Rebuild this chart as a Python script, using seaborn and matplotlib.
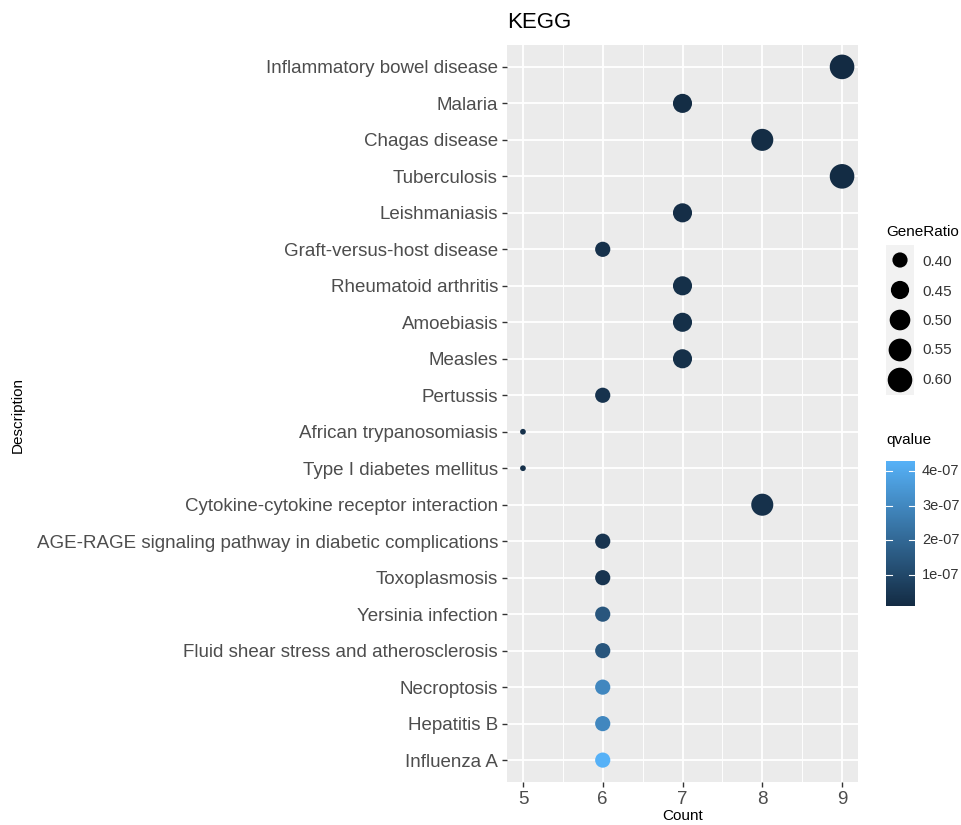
import numpy as np
import pandas as pd
import matplotlib
matplotlib.use('Agg')
import matplotlib.pyplot as plt
from matplotlib.colors import LinearSegmentedColormap, Normalize
from matplotlib.cm import ScalarMappable
import seaborn as sns

descriptions = [
    'Inflammatory bowel disease', 'Malaria', 'Chagas disease', 'Tuberculosis',
    'Leishmaniasis', 'Graft-versus-host disease', 'Rheumatoid arthritis',
    'Amoebiasis', 'Measles', 'Pertussis', 'African trypanosomiasis',
    'Type I diabetes mellitus', 'Cytokine-cytokine receptor interaction',
    'AGE-RAGE signaling pathway in diabetic complications', 'Toxoplasmosis',
    'Yersinia infection', 'Fluid shear stress and atherosclerosis',
    'Necroptosis', 'Hepatitis B', 'Influenza A',
]
counts = [9, 7, 8, 9, 7, 6, 7, 7, 7, 6, 5, 5, 8, 6, 6, 6, 6, 6, 6, 6]
gene_ratio = [0.600, 0.467, 0.533, 0.600, 0.467, 0.400, 0.467, 0.467, 0.467, 0.400,
              0.333, 0.333, 0.533, 0.400, 0.400, 0.400, 0.400, 0.400, 0.400, 0.400]
qvalue = [1.0e-8, 1.5e-8, 1.5e-8, 1.2e-8, 2.0e-8, 3.0e-8, 2.5e-8, 2.5e-8, 2.5e-8, 3.5e-8,
          3.0e-8, 3.0e-8, 3.0e-8, 4.0e-8, 4.0e-8, 1.45e-7, 1.45e-7, 3.0e-7, 3.0e-7, 4.3e-7]

size_breaks = [0.40, 0.45, 0.50, 0.55, 0.60]
q_breaks = [1e-7, 2e-7, 3e-7, 4e-7]
q_labels = ['1e-07', '2e-07', '3e-07', '4e-07']

df = pd.DataFrame({'Description': descriptions, 'Count': counts,
                   'GeneRatio': gene_ratio, 'qvalue': qvalue})

plt.rcParams['font.family'] = ['Liberation Sans', 'DejaVu Sans']

cmap = LinearSegmentedColormap.from_list('gg', ['#132B43', '#56B1F7'])
qnorm = Normalize(min(qvalue), max(qvalue))

gmin, gmax = min(gene_ratio), max(gene_ratio)


def gg_size(v):
    # ggplot-like area scale: diameter grows with sqrt of the rescaled value
    mm = 1.4 + 4.6 * np.sqrt((v - gmin) / (gmax - gmin))
    return (mm * 4.1 / 1.389) ** 2


size_map = {v: gg_size(v) for v in set(gene_ratio)}

fig = plt.figure(figsize=(9.62, 8.25), dpi=100)
ax = fig.add_axes([507 / 962, 43 / 825, 351 / 962, 737 / 825])
ax.set_facecolor('#EBEBEB')

sns.scatterplot(data=df, x='Count', y='Description', hue='qvalue', size='GeneRatio',
                palette=cmap, hue_norm=qnorm, sizes=size_map, linewidth=0,
                legend=False, ax=ax, zorder=3)

n = len(descriptions)
ax.set_ylim(n - 1 + 0.6, -0.6)
ax.set_xlim(4.8, 9.2)
ax.set_xticks([5, 6, 7, 8, 9])
ax.set_xticks([5.5, 6.5, 7.5, 8.5], minor=True)
ax.grid(which='major', color='white', linewidth=1.3, zorder=0)
ax.grid(which='minor', axis='x', color='white', linewidth=0.65, zorder=0)
ax.set_axisbelow(True)
for s in ax.spines.values():
    s.set_visible(False)
ax.tick_params(axis='both', which='major', length=3.5, width=1, color='#333333',
               labelcolor='#4D4D4D', labelsize=13.5, pad=3)
ax.tick_params(which='minor', length=0)
ax.set_xlabel('Count', fontsize=11, labelpad=1)
ax.set_ylabel('')
fig.text(18 / 962, 1 - 415 / 825, 'Description', rotation=90, fontsize=11,
         ha='center', va='center')
fig.text(507 / 962, 1 - 22 / 825, 'KEGG', fontsize=16, ha='left', va='center')

# GeneRatio legend
fig.text(886 / 962, 1 - 232 / 825, 'GeneRatio', fontsize=11, ha='left', va='center')
lax = fig.add_axes([886 / 962, 1 - 395 / 825, 28 / 962, 150 / 825])
lax.set_facecolor('#F2F2F2')
lax.set_xlim(0, 1)
lax.set_ylim(len(size_breaks) - 0.5, -0.5)
sns.scatterplot(x=[0.5] * len(size_breaks), y=list(range(len(size_breaks))),
                s=[gg_size(v) for v in size_breaks], color='black', linewidth=0,
                legend=False, ax=lax)
lax.set_xticks([])
lax.set_yticks([])
for s in lax.spines.values():
    s.set_visible(False)
for i, v in enumerate(size_breaks):
    fig.text(922 / 962, 1 - (262 + i * 29.5) / 825, f'{v:.2f}', fontsize=11,
             color='#333333', ha='left', va='center')

# qvalue colorbar
fig.text(886 / 962, 1 - 440 / 825, 'qvalue', fontsize=11, ha='left', va='center')
cax = fig.add_axes([886 / 962, 1 - 606 / 825, 29 / 962, 145 / 825])
cb = fig.colorbar(ScalarMappable(norm=qnorm, cmap=cmap), cax=cax)
cb.outline.set_visible(False)
cb.set_ticks([])
for qb, lab in zip(q_breaks, q_labels):
    cax.plot([0, 0.2], [qb, qb], color='white', lw=0.8, transform=cax.get_yaxis_transform())
    cax.plot([0.8, 1], [qb, qb], color='white', lw=0.8, transform=cax.get_yaxis_transform())
    cax.annotate(lab, xy=(1, qb), xycoords=cax.get_yaxis_transform(),
                 xytext=(7, 0), textcoords='offset pixels', fontsize=10.5,
                 color='#333333', ha='left', va='center')

fig.savefig('out.png', dpi=100)
